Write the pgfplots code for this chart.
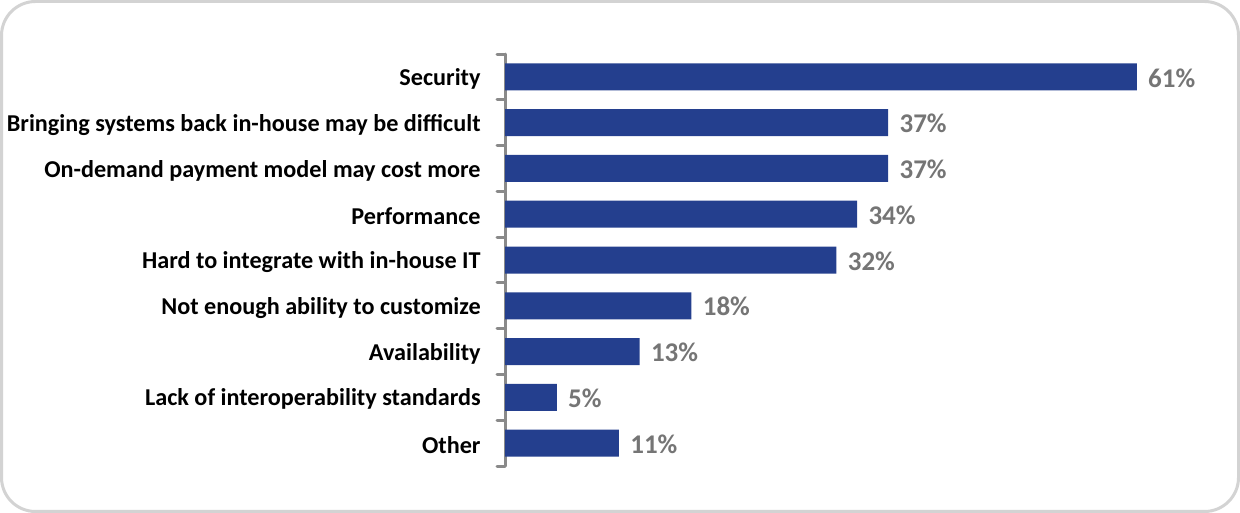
\documentclass[border=0pt]{standalone}
\usepackage{pgfplots}
\pgfplotsset{compat=1.18}
\usepackage{fontspec}
\setmainfont{Carlito}
\definecolor{barblue}{HTML}{243F8E}
\definecolor{valgray}{HTML}{757575}
\definecolor{axgray}{HTML}{8A8A8A}
\definecolor{framegray}{HTML}{D3D3D3}

\begin{document}
\begin{tikzpicture}
% rounded frame round the whole chart
\draw[framegray, line width=1.5pt, rounded corners=17pt]
  (0.75pt,0.75pt) rectangle (619.25pt,255.75pt);

\begin{axis}[
  at={(252.5pt,23.5pt)}, anchor=south west,
  scale only axis,
  width=362.5pt, height=206pt,
  xbar, bar width=0.59,
  xmin=0, xmax=70,
  ymin=-0.5, ymax=8.5,
  y dir=reverse,
  axis x line=none,
  axis y line=left,
  y axis line style={-, axgray, line width=1.5pt, line cap=round},
  ytick={0,...,8},
  yticklabels={Security,
    Bringing systems back in-house may be difficult,
    On-demand payment model may cost more,
    Performance,
    Hard to integrate with in-house IT,
    Not enough ability to customize,
    Availability,
    Lack of interoperability standards,
    Other},
  major tick length=0pt,
  minor ytick={-0.5,0.5,...,8.5},
  minor tick length=4pt,
  tick align=outside,
  minor tick style={axgray, line width=1.5pt, line cap=round},
  yticklabel style={font=\fontsize{12.1}{14}\selectfont\bfseries, text=black,
    inner sep=0pt, anchor=east, xshift=-12pt, yshift=-1pt},
  nodes near coords={\pgfmathprintnumber[assume math mode=true]{\pgfplotspointmeta}\%},
  nodes near coords style={font=\fontsize{13.5}{15}\selectfont\bfseries,
    text=valgray, anchor=west, inner sep=0pt, xshift=5.5pt, yshift=-0.5pt},
  clip=false,
]
\addplot[fill=barblue, draw=none] coordinates {
  (61,0) (37,1) (37,2) (34,3) (32,4) (18,5) (13,6) (5,7) (11,8)
};
\end{axis}
\end{tikzpicture}
\end{document}
